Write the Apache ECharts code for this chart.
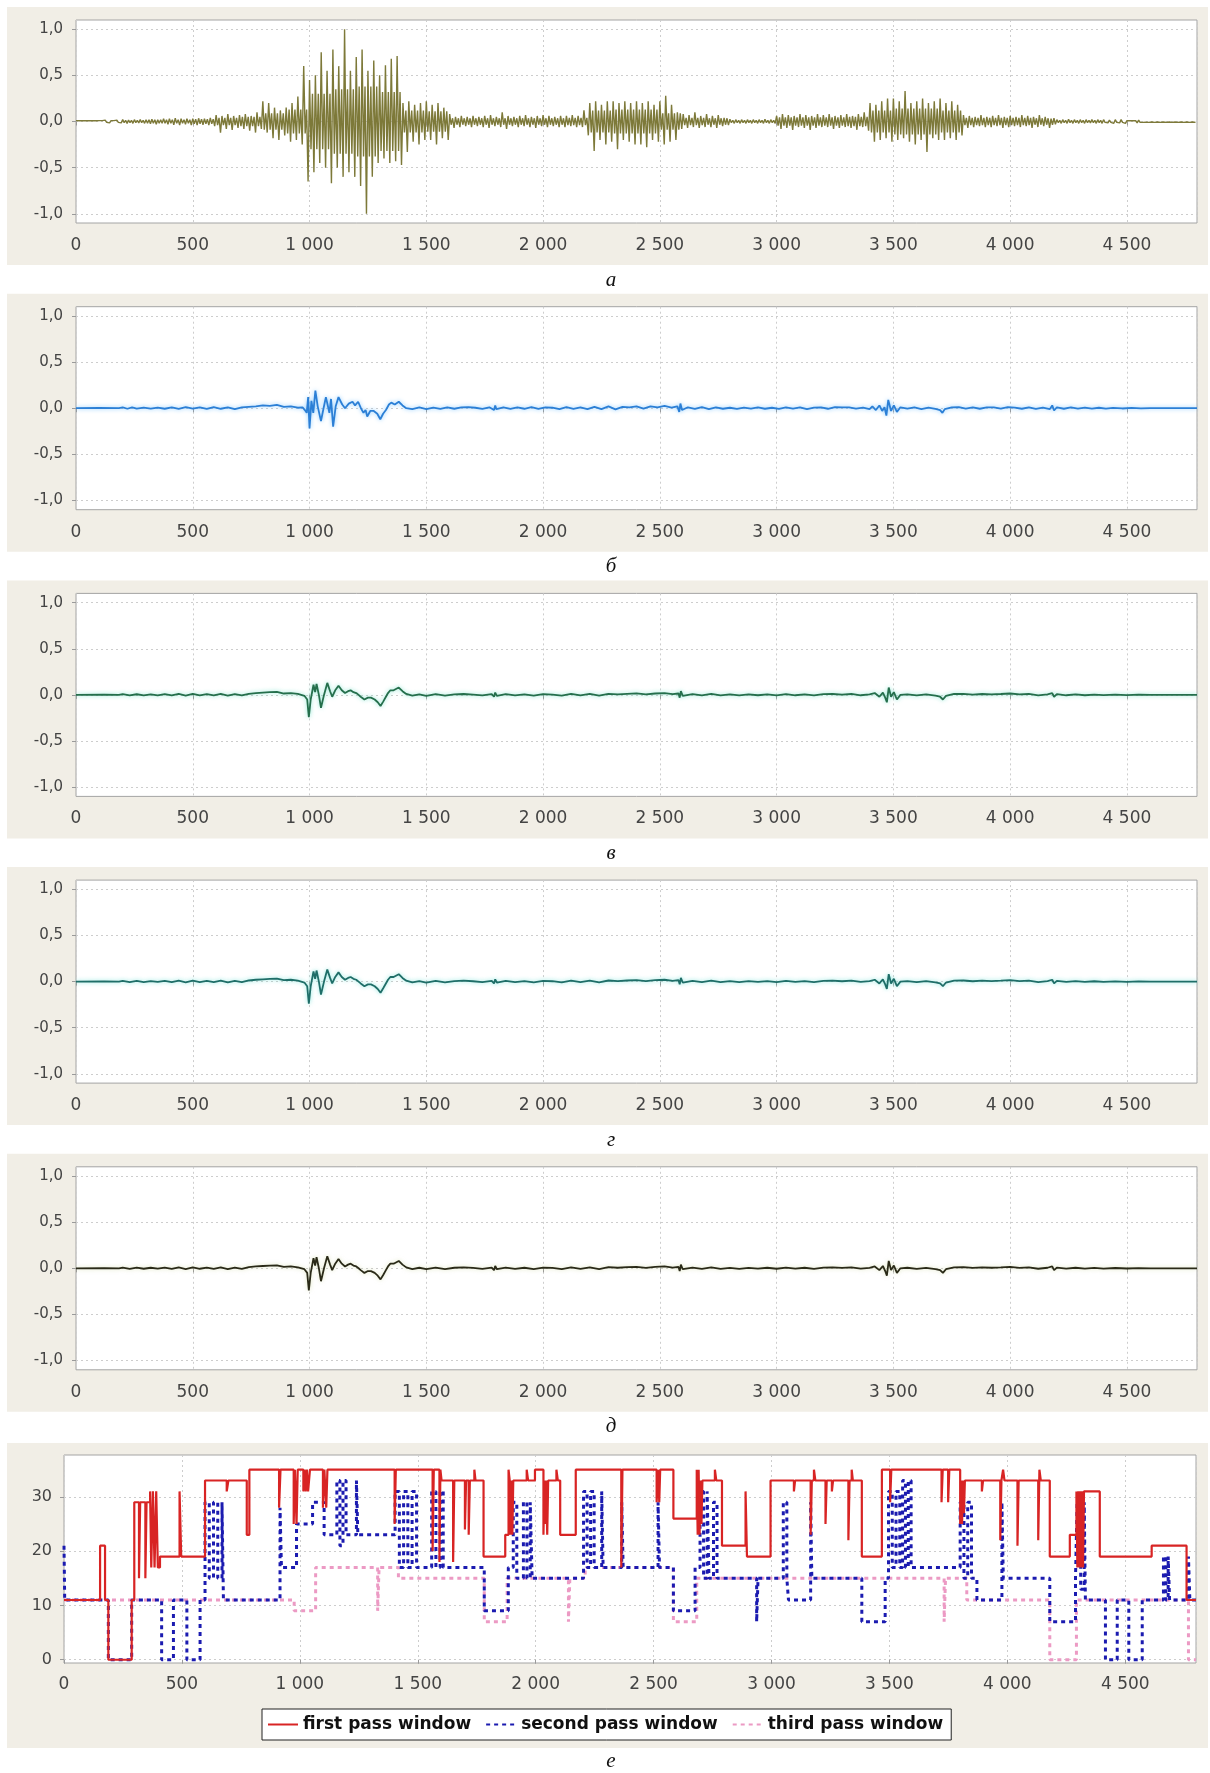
<!DOCTYPE html>
<html><head><meta charset="utf-8">
<script src="https://cdn.jsdelivr.net/npm/echarts@6/dist/echarts.min.js"></script>
<style>html,body{margin:0;padding:0;background:#fff}#c{width:1210px;height:1773px}</style>
</head><body><div id="c"></div>
<script>
// ---------- DATA ----------
const xTicks = [0, 500, 1000, 1500, 2000, 2500, 3000, 3500, 4000, 4500];
const ySignalTicks = [-1, -0.5, 0, 0.5, 1];
const yWindowTicks = [0, 10, 20, 30];
const panelLetters = ['а', 'б', 'в', 'г', 'д', 'е'];

// panel а: raw signal, upper / lower envelope per 25-sample bin (0..4800)
const aBinWidth = 25;
const aHi = [
 .01,.01,.01,.01, .01,.015,.01,.015, .02,.015,.02,.02, .02,.025,.02,.03,
 .03,.035,.03,.03, .03,.035,.03,.04, .07,.06,.08,.06, .07,.08,.06,.1,
 .22,.2,.15,.12, .15,.2,.27,.6, .45,.5,.75,.55, .78,.6,1.0,.55,
 .7,.78,.55,.66, .5,.61,.68,.71, .2,.22,.18,.2, .22,.18,.2,.15,
 .08,.05,.06,.05, .06,.05,.06,.07, .05,.1,.06,.05, .06,.07,.05,.06,
 .07,.06,.05,.06, .06,.07,.06,.12, .2,.22,.18,.22, .22,.2,.22,.2,
 .22,.2,.22,.18, .22,.28,.18,.1, .08,.07,.1,.06, .08,.06,.07,.04,
 .025,.02,.02,.02, .02,.02,.025,.02, .06,.08,.07,.06, .08,.07,.06,.08,
 .07,.08,.06,.07, .08,.06,.08,.1, .2,.18,.22,.25, .25,.22,.33,.2,
 .22,.25,.2,.22, .25,.2,.22,.18, .07,.06,.05,.07, .05,.06,.07,.05,
 .06,.05,.07,.06, .05,.07,.05,.03, .02,.02,.025,.02, .02,.02,.02,.02,
 .02,.015,.02,.02, .01,.01,.015,.01, .01,.01,.01,.01, .01,.01,.01,.01
];
const aLo = [
 -.01,-.01,-.01,-.01, -.01,-.015,-.01,-.015, -.02,-.02,-.015,-.02, -.025,-.03,-.02,-.03,
 -.035,-.04,-.03,-.04, -.04,-.035,-.04,-.05, -.12,-.08,-.09,-.07, -.08,-.1,-.12,-.08,
 -.12,-.18,-.2,-.15, -.22,-.2,-.25,-.65, -.55,-.45,-.5,-.67, -.5,-.6,-.55,-.6,
 -.7,-1.0,-.6,-.45, -.4,-.45,-.43,-.47, -.33,-.22,-.25,-.2, -.2,-.25,-.18,-.2,
 -.07,-.06,-.05,-.06, -.05,-.06,-.07,-.05, -.06,-.08,-.05,-.06, -.05,-.06,-.07,-.05,
 -.06,-.05,-.06,-.06, -.05,-.06,-.06,-.15, -.32,-.2,-.25,-.22, -.3,-.2,-.22,-.25,
 -.25,-.28,-.2,-.22, -.25,-.22,-.2,-.08, -.07,-.06,-.07,-.06, -.06,-.07,-.05,-.04,
 -.02,-.02,-.02,-.02, -.02,-.02,-.02,-.02, -.08,-.07,-.09,-.06, -.07,-.09,-.07,-.06,
 -.06,-.08,-.07,-.06, -.07,-.09,-.06,-.1, -.22,-.2,-.18,-.22, -.2,-.18,-.22,-.25,
 -.2,-.33,-.18,-.2, -.2,-.18,-.2,-.15, -.07,-.06,-.05,-.06, -.06,-.05,-.07,-.06,
 -.05,-.06,-.05,-.07, -.06,-.05,-.07,-.03, -.02,-.02,-.02,-.02, -.02,-.015,-.02,-.02,
 -.015,-.02,-.015,-.02, -.01,-.015,-.01,-.01, -.01,-.01,-.01,-.01, -.01,-.01,-.01,-.01
];
// typical (inner) swing of the raw signal per 100-sample block
const aCore = [
 .008,.01,.012,.018, .02,.025,.04,.05, .09,.13,.3,.35, .38,.32,.12,.11,
 .035,.035,.035,.035, .035,.04,.12,.13, .13,.09,.04,.035, .012,.012,.045,.045,
 .045,.05,.12,.14, .14,.12,.04,.04, .04,.035,.012,.012, .01,.008,.006,.006
];

// panel б: first filtered signal [sample, value]
const bPts = [[0,0],[100,0.003],[184,0],[200,0.008],[220,-0.006],[240,0.008],[260,-0.005],[290,0.006],[320,-0.004],[350,0.007],[380,-0.006],[410,0.01],[440,-0.008],[470,0.012],[500,-0.005],[530,0.01],[560,-0.008],[590,0.012],[620,-0.006],[650,0.01],[680,-0.01],[710,0.008],[740,0.015],[770,0.02],[800,0.03],[830,0.025],[860,0.035],[890,0.015],[920,0.02],[950,0.005],[970,0.01],[980,-0.02],[988,-0.05],[994,0.12],[1000,-0.22],[1008,0.08],[1016,-0.05],[1025,0.19],[1035,0.02],[1049,-0.14],[1060,0.0],[1070,0.12],[1085,-0.05],[1092,0.1],[1101,-0.2],[1112,0.02],[1124,0.12],[1140,0.04],[1152,0.0],[1168,0.05],[1184,0.07],[1195,0.03],[1208,0.07],[1220,0.0],[1231,-0.05],[1240,-0.02],[1247,-0.09],[1260,-0.03],[1275,-0.03],[1290,-0.06],[1303,-0.12],[1315,-0.06],[1327,-0.02],[1340,0.04],[1350,0.06],[1365,0.04],[1382,0.07],[1398,0.03],[1414,0.0],[1440,-0.01],[1470,0.008],[1500,-0.01],[1530,0.006],[1560,-0.008],[1590,0.01],[1620,-0.006],[1650,0.008],[1680,0.012],[1710,0.005],[1740,-0.008],[1770,0.01],[1790,-0.02],[1795,0.03],[1800,-0.01],[1830,0.01],[1860,-0.008],[1890,0.01],[1920,-0.006],[1950,0.012],[1980,-0.008],[2010,0.01],[2040,0.005],[2070,-0.01],[2100,0.012],[2130,-0.008],[2160,0.01],[2190,-0.01],[2220,0.015],[2250,-0.01],[2280,0.02],[2310,-0.012],[2340,0.015],[2370,0.01],[2400,0.02],[2430,-0.005],[2460,0.02],[2490,0.01],[2520,0.025],[2550,0.005],[2575,0.02],[2583,-0.04],[2588,0.05],[2595,-0.02],[2620,0.01],[2650,-0.008],[2680,0.012],[2710,-0.01],[2740,0.008],[2770,-0.006],[2800,0.005],[2830,-0.008],[2860,0.006],[2890,-0.005],[2920,0.008],[2950,-0.006],[2980,0.005],[3010,-0.008],[3040,0.01],[3070,-0.005],[3100,0.008],[3130,-0.01],[3160,0.006],[3190,0.01],[3220,-0.006],[3250,0.012],[3280,0.008],[3310,0.01],[3340,-0.005],[3370,0.006],[3398,-0.01],[3410,0.02],[3425,-0.02],[3440,0.03],[3452,-0.03],[3462,0.01],[3470,-0.08],[3478,0.09],[3490,-0.03],[3502,0.03],[3515,-0.04],[3530,0.01],[3560,-0.005],[3590,0.008],[3620,-0.01],[3650,0.006],[3680,-0.008],[3700,-0.02],[3710,-0.05],[3720,-0.01],[3750,0.01],[3780,0.012],[3810,-0.005],[3840,0.01],[3870,-0.006],[3900,0.008],[3930,0.01],[3960,-0.005],[3990,0.012],[4020,0.006],[4050,-0.006],[4080,0.01],[4110,-0.008],[4140,0.006],[4170,-0.01],[4180,0.03],[4188,-0.025],[4200,0.01],[4230,-0.006],[4260,0.008],[4290,-0.005],[4320,0.006],[4350,-0.004],[4380,0.005],[4410,-0.004],[4440,0.004],[4480,-0.003],[4520,0.003],[4560,-0.002],[4600,0],[4700,0],[4800,0]];

// panels в, г, д: further filtered signals (visually identical shapes)
const vPts = [[0,0],[120,0.002],[184,0],[200,0.008],[230,-0.006],[260,0.007],[290,-0.005],[320,0.006],[350,-0.004],[380,0.008],[410,-0.006],[440,0.01],[470,-0.008],[500,0.01],[530,-0.005],[560,0.008],[590,-0.006],[620,0.01],[650,-0.008],[680,0.008],[710,-0.006],[740,0.012],[770,0.02],[800,0.025],[830,0.03],[860,0.032],[890,0.015],[920,0.02],[950,0.01],[978,-0.01],[990,-0.05],[997,-0.24],[1005,-0.05],[1017,0.11],[1024,0.03],[1030,0.12],[1040,0.0],[1049,-0.14],[1062,0.0],[1076,0.13],[1088,0.04],[1097,-0.02],[1110,0.05],[1124,0.1],[1138,0.05],[1152,0.02],[1165,0.04],[1176,0.05],[1188,0.03],[1200,0.02],[1210,0.0],[1219,-0.02],[1235,-0.05],[1250,-0.03],[1263,-0.03],[1279,-0.05],[1292,-0.08],[1304,-0.12],[1316,-0.07],[1327,-0.02],[1336,0.02],[1346,0.05],[1360,0.05],[1382,0.08],[1398,0.04],[1414,0.01],[1440,-0.008],[1470,0.006],[1500,-0.01],[1540,0.008],[1580,-0.008],[1620,0.006],[1660,0.01],[1700,0.004],[1740,-0.006],[1780,0.008],[1790,-0.02],[1795,0.025],[1802,-0.01],[1840,0.008],[1880,-0.006],[1920,0.006],[1960,-0.008],[2000,0.008],[2040,0.004],[2080,-0.008],[2120,0.01],[2160,-0.006],[2200,0.01],[2240,-0.008],[2280,0.012],[2320,0.006],[2360,0.012],[2400,0.016],[2440,0.005],[2480,0.015],[2520,0.02],[2555,0.008],[2580,0.015],[2585,-0.03],[2590,0.04],[2598,-0.01],[2640,0.008],[2680,-0.006],[2720,0.01],[2760,-0.006],[2800,0.005],[2840,-0.006],[2880,0.005],[2920,-0.004],[2960,0.006],[3000,-0.005],[3040,0.008],[3080,-0.004],[3120,0.006],[3160,-0.006],[3200,0.008],[3240,0.01],[3280,0.004],[3320,0.01],[3360,-0.004],[3398,0.005],[3420,0.02],[3440,-0.02],[3455,0.025],[3465,-0.03],[3472,-0.08],[3480,0.08],[3490,-0.02],[3502,0.03],[3515,-0.05],[3530,0.0],[3560,0.006],[3600,-0.006],[3640,0.005],[3680,-0.008],[3700,-0.02],[3712,-0.05],[3725,-0.01],[3760,0.01],[3800,0.012],[3840,0.004],[3880,0.01],[3920,0.006],[3960,0.01],[4000,0.015],[4040,0.005],[4080,0.01],[4120,-0.005],[4160,0.006],[4180,0.02],[4188,-0.02],[4200,0.008],[4240,-0.004],[4280,0.006],[4320,-0.004],[4360,0.004],[4400,-0.003],[4450,0.003],[4500,-0.002],[4550,0.002],[4600,0],[4700,0],[4800,0]];
const gPts = vPts;
const dPts = vPts;

// panel е: window sizes per pass, [sample, window] held until next point
const firstPass = [[0,11],[153,21],[174,11],[188,0],[287,11],[298,29],[318,15],[323,29],[345,15],[350,29],[365,31],[370,17],[377,31],[384,17],[391,31],[398,17],[407,19],[490,31],[497,19],[598,33],[690,31],[697,33],[775,23],[786,35],[912,28],[918,35],[974,25],[979,35],[986,25],[991,35],[1015,31],[1020,35],[1025,31],[1030,35],[1035,31],[1043,35],[1098,28],[1104,35],[1112,28],[1117,35],[1402,25],[1407,35],[1563,20],[1568,35],[1592,18],[1596,35],[1601,33],[1650,18],[1655,33],[1700,24],[1705,33],[1716,23],[1721,33],[1740,35],[1745,33],[1779,19],[1871,23],[1885,35],[1890,33],[1893,23],[1897,33],[1901,23],[1905,33],[1962,35],[1968,33],[1997,35],[2033,23],[2037,33],[2041,25],[2045,33],[2049,23],[2053,33],[2088,35],[2094,33],[2104,23],[2170,35],[2363,17],[2368,35],[2513,29],[2520,35],[2524,29],[2528,35],[2584,26],[2683,35],[2687,23],[2691,35],[2695,23],[2699,33],[2703,25],[2707,33],[2760,35],[2766,33],[2790,21],[2890,31],[2896,19],[2996,33],[3095,31],[3100,33],[3166,23],[3171,33],[3180,35],[3186,33],[3229,25],[3234,33],[3256,31],[3261,33],[3326,22],[3331,33],[3340,35],[3345,33],[3383,19],[3468,35],[3503,29],[3508,35],[3721,29],[3726,35],[3749,29],[3754,35],[3800,25],[3804,33],[3808,25],[3812,33],[3816,27],[3820,33],[3892,31],[3897,33],[3970,22],[3975,33],[3982,35],[3988,33],[4043,21],[4048,33],[4131,22],[4136,35],[4142,33],[4180,19],[4265,23],[4293,31],[4297,17],[4301,31],[4305,17],[4309,31],[4313,17],[4317,31],[4321,17],[4325,31],[4392,19],[4612,21],[4760,11],[4800,11]];
const secondPass = [[0,21],[3,11],[188,0],[287,11],[414,0],[464,11],[521,0],[577,11],[598,29],[616,15],[634,29],[652,15],[670,29],[676,11],[916,28],[922,17],[986,25],[1054,29],[1103,23],[1157,33],[1170,21],[1183,33],[1196,23],[1240,33],[1246,23],[1404,31],[1422,17],[1440,31],[1458,17],[1476,31],[1495,17],[1559,31],[1577,17],[1595,31],[1608,17],[1782,9],[1884,17],[1905,29],[1920,15],[1948,29],[1963,15],[1977,29],[1985,15],[2203,31],[2218,17],[2233,31],[2248,17],[2280,31],[2286,17],[2365,29],[2371,17],[2519,29],[2525,17],[2584,9],[2676,17],[2697,31],[2712,15],[2727,31],[2735,15],[2754,29],[2769,15],[2937,7],[2943,15],[3050,29],[3065,15],[3072,11],[3166,29],[3171,15],[3383,7],[3482,15],[3496,31],[3512,17],[3528,31],[3544,17],[3556,33],[3568,17],[3580,33],[3592,17],[3800,29],[3816,15],[3832,29],[3848,15],[3871,11],[3977,29],[3983,15],[4180,7],[4289,15],[4296,29],[4311,13],[4326,29],[4331,11],[4416,0],[4466,11],[4515,0],[4572,11],[4662,19],[4672,11],[4682,19],[4688,11],[4768,19],[4774,11],[4800,11]];
const thirdPass = [[0,11],[976,9],[1067,17],[1330,9],[1336,17],[1418,15],[1782,7],[1879,15],[2139,7],[2145,15],[2210,17],[2584,7],[2683,15],[3732,7],[3738,15],[3828,11],[4180,0],[4293,11],[4768,0],[4800,0]];
const seriesNames = ['first pass window', 'second pass window', 'third pass window'];
const passColors = ['#d82424', '#1b1bb0', '#ec9ac4'];

// ---------- CHART ----------
const STEP = 286.7;
const fmtX = v => v >= 1000 ? Math.floor(v / 1000) + ' ' + String(v % 1000).padStart(3, '0') : String(v);
const fmtY = v => v.toFixed(1).replace('.', ',');
const splitL = {show: true, lineStyle: {color: '#cdcdcd', type: [2, 3], width: 1}};
const tickS = {show: true, length: 4, lineStyle: {color: '#9a9a9a'}};
const labelFont = 'DejaVu Sans';
const olive = '#7d7939';

// raw signal path: per bin the peak, an inner trough, an inner crest and the trough peak
function aSignal() {
  const out = [];
  const q = aBinWidth / 4;
  for (let i = 0; i < aHi.length; i++) {
    const core = aCore[Math.floor(i * aBinWidth / 100)];
    const x = i * aBinWidth;
    out.push([x, aHi[i]]);
    out.push([x + q, -core]);
    out.push([x + 2 * q, core]);
    out.push([x + 3 * q, aLo[i]]);
  }
  return out;
}

const signalPanels = [
  {data: aSignal(), color: olive, width: 1.4, glow: null},
  {data: bPts, color: '#2b7fd6', width: 1.8, glow: 'rgba(110,190,255,0.8)'},
  {data: vPts, color: '#256f4c', width: 1.8, glow: 'rgba(110,225,200,0.8)'},
  {data: gPts, color: '#1f6e68', width: 1.8, glow: 'rgba(110,225,215,0.8)'},
  {data: dPts, color: '#2a2a18', width: 1.8, glow: 'rgba(200,210,150,0.6)'}
];

const grids = [], xAxes = [], yAxes = [], series = [], graphics = [];
signalPanels.forEach((p, i) => {
  const top = 20 + i * STEP;
  graphics.push({type: 'rect', silent: true, z: -100, shape: {x: 7, y: 7 + i * STEP, width: 1201, height: 258}, style: {fill: '#f1eee6'}});
  graphics.push({type: 'text', silent: true, x: 611, y: 280 + i * STEP,
    style: {text: panelLetters[i], font: 'italic 21px "Liberation Serif"', fill: '#111', textAlign: 'center', textVerticalAlign: 'middle', align: 'center', verticalAlign: 'middle'}});
  grids.push({left: 76, top: top, width: 1121, height: 203, show: true, backgroundColor: '#fff', borderColor: '#a4a4a4', borderWidth: 1});
  xAxes.push({type: 'value', gridIndex: i, min: 0, max: 4800, interval: 500,
    axisLine: {show: false}, axisTick: tickS,
    axisLabel: {showMaxLabel: false, formatter: fmtX, fontSize: 17, fontFamily: labelFont, color: '#444', margin: 14},
    splitLine: splitL});
  yAxes.push({type: 'value', gridIndex: i, min: -1.1, max: 1.1,
    axisLine: {show: false},
    axisTick: Object.assign({customValues: ySignalTicks}, tickS),
    axisLabel: {customValues: ySignalTicks, formatter: fmtY, fontSize: 15, fontFamily: labelFont, color: '#444', margin: 13},
    splitLine: splitL});
  const ls = {color: p.color, width: p.width};
  if (p.glow) { ls.shadowColor = p.glow; ls.shadowBlur = 4; }
  series.push({type: 'line', xAxisIndex: i, yAxisIndex: i, data: p.data, showSymbol: false, symbol: 'none',
    sampling: undefined, lineStyle: ls, silent: true, z: 3});
});

// panel е
const li = 5;
graphics.push({type: 'rect', silent: true, z: -100, shape: {x: 7, y: 1443, width: 1201, height: 305}, style: {fill: '#f1eee6'}});
graphics.push({type: 'text', silent: true, x: 611, y: 1761,
  style: {text: panelLetters[5], font: 'italic 21px "Liberation Serif"', fill: '#111', textAlign: 'center', textVerticalAlign: 'middle', align: 'center', verticalAlign: 'middle'}});
grids.push({left: 64, top: 1455, width: 1132, height: 208, show: true, backgroundColor: '#fff', borderColor: '#a4a4a4', borderWidth: 1});
xAxes.push({type: 'value', gridIndex: li, min: 0, max: 4800, interval: 500,
  axisLine: {show: false}, axisTick: tickS,
  axisLabel: {showMaxLabel: false, formatter: fmtX, fontSize: 17, fontFamily: labelFont, color: '#444', margin: 13},
  splitLine: splitL});
yAxes.push({type: 'value', gridIndex: li, min: -0.6, max: 37.7,
  axisLine: {show: false},
  axisTick: Object.assign({customValues: yWindowTicks}, tickS),
  axisLabel: {customValues: yWindowTicks, fontSize: 16, fontFamily: labelFont, color: '#444', margin: 12},
  splitLine: splitL});
series.push({name: seriesNames[2], type: 'line', step: 'end', xAxisIndex: li, yAxisIndex: li, data: thirdPass,
  showSymbol: false, symbol: 'none', itemStyle: {color: passColors[2]}, lineStyle: {color: passColors[2], width: 3, type: [4, 4]}, z: 3});
series.push({name: seriesNames[1], type: 'line', step: 'end', xAxisIndex: li, yAxisIndex: li, data: secondPass,
  showSymbol: false, symbol: 'none', itemStyle: {color: passColors[1]}, lineStyle: {color: passColors[1], width: 3, type: [4, 4]}, z: 4});
series.push({name: seriesNames[0], type: 'line', step: 'end', xAxisIndex: li, yAxisIndex: li, data: firstPass,
  showSymbol: false, symbol: 'none', itemStyle: {color: passColors[0]}, lineStyle: {color: passColors[0], width: 2.2}, z: 5});

const option = {
  animation: false,
  backgroundColor: '#ffffff',
  grid: grids, xAxis: xAxes, yAxis: yAxes, series: series,
  graphic: {elements: graphics},
  legend: {
    data: seriesNames, left: 262, top: 1709, orient: 'horizontal',
    itemWidth: 30, itemHeight: 14, itemGap: 14,
    itemStyle: {opacity: 0, borderWidth: 0},
    padding: [7, 8, 7, 5], borderColor: '#222', borderWidth: 1, backgroundColor: '#fff',
    textStyle: {fontFamily: 'DejaVu Sans', fontWeight: 'bold', fontSize: 17, color: '#111'},
    selectedMode: false
  }
};
const chart = echarts.init(document.getElementById('c'), null, {renderer: 'canvas'});
chart.setOption(option);
</script></body></html>
